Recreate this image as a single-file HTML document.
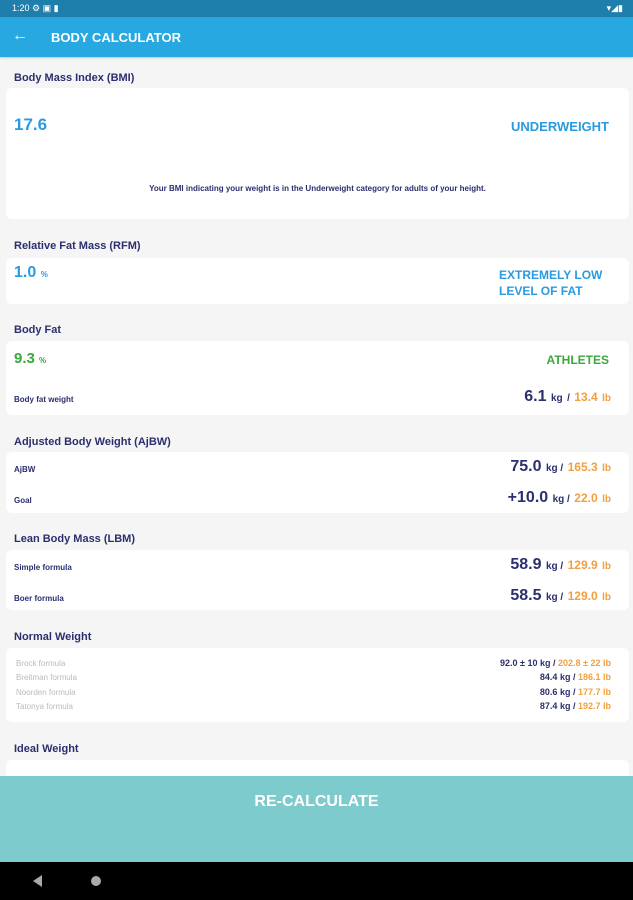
<!DOCTYPE html><html><head><style>
*{margin:0;padding:0;box-sizing:border-box}
body{width:633px;height:900px;position:relative;background:#f5f5f5;font-family:"Liberation Sans",sans-serif;overflow:hidden}
.a{position:absolute}
.card{position:absolute;left:6px;width:623px;background:#fff;border-radius:6px}
.h{position:absolute;left:14px;font-size:11px;color:#2b2f6e;font-weight:bold}
.n{color:#2b2f6e}.o{color:#f0a040}
.r{position:absolute;right:18px;font-weight:bold;text-align:right}
.r .big{font-size:16px}.r .s{font-size:10px}
.lbl{position:absolute;left:14px;font-size:9px;color:#2b2f6e;font-weight:bold}
.nl{position:absolute;left:16px;font-size:8px;color:#bbb}
.nr{position:absolute;right:18px;font-size:9px;font-weight:bold}
</style></head><body>
<div class="a" style="left:0;top:0;width:633px;height:17px;background:#1f7fac;color:#fff;font-size:9px;padding:3px 0 0 12px">1:20 ⚙ ▣ ▮<span style="position:absolute;right:10px">▾◢▮</span></div>
<div class="a" style="left:0;top:17px;width:633px;height:40px;background:#27a8e0;color:#fff;box-shadow:0 1px 2px rgba(0,0,0,.2)"><span class="a" style="left:12px;top:10px;font-size:16px">←</span><span class="a" style="left:51px;top:13px;font-size:13px;font-weight:bold">BODY CALCULATOR</span></div>

<div class="h" style="top:72px">Body Mass Index (BMI)</div>
<div class="card" style="top:88px;height:131px">
<div class="a" style="left:8px;top:27px;font-size:17px;color:#2a9be0;font-weight:bold">17.6</div>
<div class="a" style="right:20px;top:31px;font-size:13px;color:#2a9be0;font-weight:bold">UNDERWEIGHT</div>
<div class="a" style="left:0;width:623px;top:96px;text-align:center;font-size:8px;color:#2b2f6e;font-weight:bold">Your BMI indicating your weight is in the Underweight category for adults of your height.</div>
</div>

<div class="h" style="top:240px">Relative Fat Mass (RFM)</div>
<div class="card" style="top:258px;height:46px">
<div class="a" style="left:8px;top:6px;font-size:16px;color:#2a9be0;font-weight:bold">1.0 <span style="font-size:8px">%</span></div>
<div class="a" style="left:493px;top:9px;font-size:12px;color:#2a9be0;font-weight:bold;line-height:16px">EXTREMELY LOW<br>LEVEL OF FAT</div>
</div>

<div class="h" style="top:324px">Body Fat</div>
<div class="card" style="top:341px;height:74px">
<div class="a" style="left:8px;top:9px;font-size:15px;color:#3aa83a;font-weight:bold">9.3 <span style="font-size:8px">%</span></div>
<div class="a" style="right:20px;top:12px;font-size:12px;color:#3aa83a;font-weight:bold">ATHLETES</div>
<div class="lbl" style="left:8px;top:54px;font-size:8px">Body fat weight</div>
<div class="r" style="top:47px"><span class="n big">6.1</span> <span class="n s">kg</span> <span class="n s">/</span> <span class="o" style="font-size:12px">13.4</span> <span class="o s">lb</span></div>
</div>

<div class="h" style="top:436px">Adjusted Body Weight (AjBW)</div>
<div class="card" style="top:452px;height:61px">
<div class="lbl" style="left:8px;top:13px;font-size:8px">AjBW</div>
<div class="r" style="top:6px"><span class="n big">75.0</span> <span class="n s">kg /</span> <span class="o" style="font-size:12px">165.3</span> <span class="o s">lb</span></div>
<div class="lbl" style="left:8px;top:44px;font-size:8px">Goal</div>
<div class="r" style="top:37px"><span class="n big">+10.0</span> <span class="n s">kg /</span> <span class="o" style="font-size:12px">22.0</span> <span class="o s">lb</span></div>
</div>

<div class="h" style="top:533px">Lean Body Mass (LBM)</div>
<div class="card" style="top:550px;height:60px">
<div class="lbl" style="left:8px;top:13px;font-size:8px">Simple formula</div>
<div class="r" style="top:6px"><span class="n big">58.9</span> <span class="n s">kg /</span> <span class="o" style="font-size:12px">129.9</span> <span class="o s">lb</span></div>
<div class="lbl" style="left:8px;top:44px;font-size:8px">Boer formula</div>
<div class="r" style="top:37px"><span class="n big">58.5</span> <span class="n s">kg /</span> <span class="o" style="font-size:12px">129.0</span> <span class="o s">lb</span></div>
</div>

<div class="h" style="top:631px">Normal Weight</div>
<div class="card" style="top:648px;height:74px">
<div class="nl" style="left:10px;top:11px">Brock formula</div><div class="nr" style="top:10px"><span class="n">92.0 ± 10 kg /</span> <span class="o">202.8 ± 22 lb</span></div>
<div class="nl" style="left:10px;top:25px">Breitman formula</div><div class="nr" style="top:24px"><span class="n">84.4 kg /</span> <span class="o">186.1 lb</span></div>
<div class="nl" style="left:10px;top:40px">Noorden formula</div><div class="nr" style="top:39px"><span class="n">80.6 kg /</span> <span class="o">177.7 lb</span></div>
<div class="nl" style="left:10px;top:54px">Tatonya formula</div><div class="nr" style="top:53px"><span class="n">87.4 kg /</span> <span class="o">192.7 lb</span></div>
</div>

<div class="h" style="top:743px">Ideal Weight</div>
<div class="card" style="top:760px;height:30px"></div>

<div class="a" style="left:0;top:776px;width:633px;height:86px;background:#7ecbcd;color:#fff;text-align:center;font-weight:bold;font-size:16px;padding-top:17px">RE-CALCULATE</div>
<div class="a" style="left:0;top:862px;width:633px;height:38px;background:#000">
<div class="a" style="left:33px;top:13px;width:0;height:0;border-top:6px solid transparent;border-bottom:6px solid transparent;border-right:9px solid #aaa"></div>
<div class="a" style="left:91px;top:14px;width:10px;height:10px;border-radius:50%;background:#aaa"></div>
</div>
</body></html>
